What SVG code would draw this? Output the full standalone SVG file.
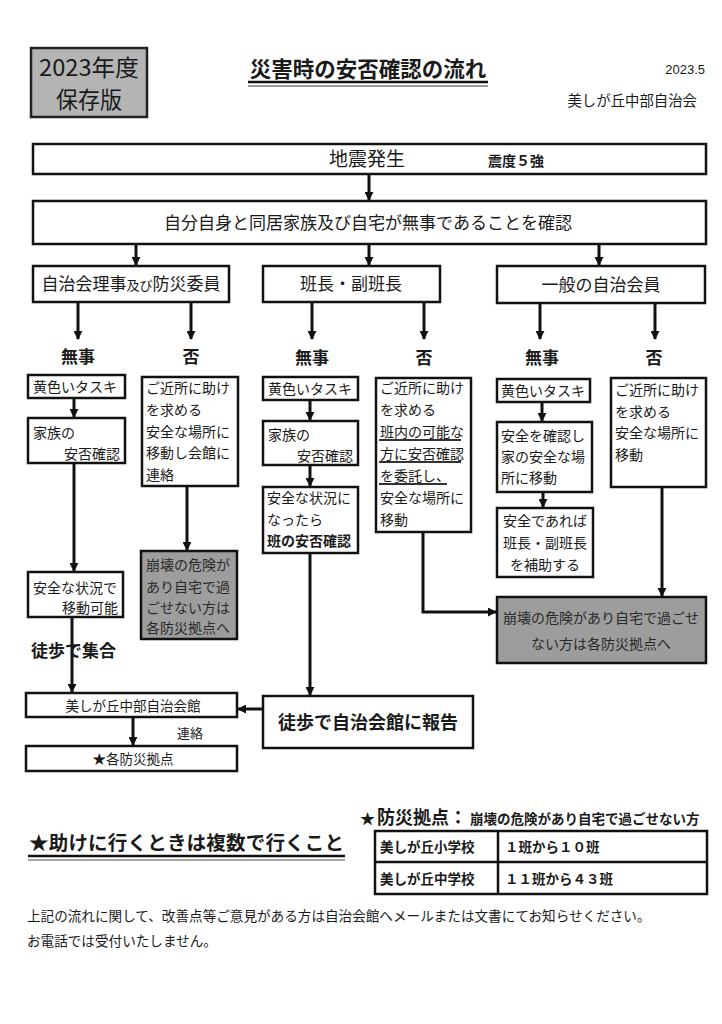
<svg xmlns="http://www.w3.org/2000/svg" width="722" height="1024" viewBox="0 0 722 1024">
<style>
text{font-family:"Noto Sans CJK JP","Noto Sans",sans-serif;fill:#1a1a1a}
.box{fill:#fff;stroke:#111;stroke-width:2.5}
.gbox{fill:#9d9d9d;stroke:#111;stroke-width:2.5}
.con{fill:none;stroke:#111;stroke-width:3}
.t14{font-size:14px}
.t13{font-size:13.5px}
.b{font-weight:bold}
.mid{text-anchor:middle}
.end{text-anchor:end}
.gt{fill:#2a2a2a;font-size:14px}
.ul{stroke:#333;stroke-width:1.8}
</style>
<defs>
<marker id="ah" viewBox="0 0 10 10" refX="9" refY="5" markerWidth="9" markerHeight="9" markerUnits="userSpaceOnUse" orient="auto"><path d="M0,0 L10,5 L0,10 z" fill="#111"/></marker>
</defs>
<rect width="722" height="1024" fill="#fff"/>

<g id="header">
<rect x="31" y="48" width="116" height="69" fill="#b4b4b4" stroke="#222" stroke-width="2.5"/>
<text x="89" y="76" class="mid" font-size="23" textLength="100" lengthAdjust="spacingAndGlyphs">2023年度</text>
<text x="89" y="108" class="mid" font-size="23" textLength="66" lengthAdjust="spacingAndGlyphs">保存版</text>
<text x="368" y="77" class="mid b" font-size="21.5">災害時の安否確認の流れ</text>
<line x1="248" y1="82" x2="488" y2="82" stroke="#111" stroke-width="2.5"/>
<line x1="248" y1="86" x2="488" y2="86" stroke="#777" stroke-width="1.5"/>
<text x="705" y="74" class="end" font-size="13" style="font-family:'Liberation Sans',sans-serif">2023.5</text>
<text x="697" y="106" class="end" font-size="14.4">美しが丘中部自治会</text>
</g>

<g id="connectors">
<line class="con" x1="369" y1="174" x2="369" y2="200" marker-end="url(#ah)"/>
<line class="con" x1="136" y1="244" x2="136" y2="265" marker-end="url(#ah)"/>
<line class="con" x1="369" y1="244" x2="369" y2="265" marker-end="url(#ah)"/>
<line class="con" x1="599" y1="244" x2="599" y2="265" marker-end="url(#ah)"/>
<line class="con" x1="78" y1="302" x2="78" y2="339" marker-end="url(#ah)"/>
<line class="con" x1="191" y1="302" x2="191" y2="339" marker-end="url(#ah)"/>
<line class="con" x1="312" y1="302" x2="312" y2="339" marker-end="url(#ah)"/>
<line class="con" x1="424" y1="302" x2="424" y2="339" marker-end="url(#ah)"/>
<line class="con" x1="540" y1="303" x2="540" y2="339" marker-end="url(#ah)"/>
<line class="con" x1="655" y1="303" x2="655" y2="339" marker-end="url(#ah)"/>
<line class="con" x1="74" y1="398" x2="74" y2="417" marker-end="url(#ah)"/>
<line class="con" x1="74" y1="463" x2="74" y2="571" marker-end="url(#ah)"/>
<line class="con" x1="72" y1="617" x2="72" y2="692" marker-end="url(#ah)"/>
<line class="con" x1="187" y1="486" x2="187" y2="550" marker-end="url(#ah)"/>
<line class="con" x1="310" y1="400" x2="310" y2="420" marker-end="url(#ah)"/>
<line class="con" x1="310" y1="465" x2="310" y2="486" marker-end="url(#ah)"/>
<line class="con" x1="310" y1="553" x2="310" y2="695" marker-end="url(#ah)"/>
<polyline class="con" points="423,532 423,612 496,612" marker-end="url(#ah)"/>
<line class="con" x1="542" y1="402" x2="542" y2="421" marker-end="url(#ah)"/>
<line class="con" x1="543" y1="492" x2="543" y2="507" marker-end="url(#ah)"/>
<line class="con" x1="662" y1="487" x2="662" y2="596" marker-end="url(#ah)"/>
<line class="con" x1="263" y1="709" x2="238" y2="709" marker-end="url(#ah)"/>
<line class="con" x1="133" y1="717" x2="133" y2="745" marker-end="url(#ah)"/>
</g>

<g id="n-quake">
<rect class="box" x="33" y="144" width="673" height="30"/>
<text x="367" y="166" class="mid" font-size="19">地震発生</text>
<text x="488" y="166" class="b" font-size="14">震度５強</text>
</g>
<g id="n-check">
<rect class="box" x="33" y="201" width="673" height="43"/>
<text x="368" y="229" class="mid" font-size="17">自分自身と同居家族及び自宅が無事であることを確認</text>
</g>
<g id="n-role1">
<rect class="box" x="33" y="266" width="196" height="36"/>
<text x="131" y="290" class="mid" font-size="17">自治会理事<tspan font-size="13">及び</tspan>防災委員</text>
</g>
<g id="n-role2">
<rect class="box" x="263" y="266" width="177" height="36"/>
<text x="351" y="290" class="mid" font-size="17">班長・副班長</text>
</g>
<g id="n-role3">
<rect class="box" x="497" y="266" width="208" height="37"/>
<text x="601" y="291" class="mid" font-size="17">一般の自治会員</text>
</g>

<g id="labels">
<text x="78" y="363" class="mid b" font-size="17">無事</text>
<text x="191" y="363" class="mid b" font-size="17">否</text>
<text x="312" y="364" class="mid b" font-size="17">無事</text>
<text x="424" y="364" class="mid b" font-size="17">否</text>
<text x="542" y="364" class="mid b" font-size="17">無事</text>
<text x="654" y="364" class="mid b" font-size="17">否</text>
</g>

<g id="n-c1-sash">
<rect class="box" x="28" y="375" width="97" height="23"/>
<text x="33" y="392" class="t14">黄色いタスキ</text>
</g>
<g id="n-c1-family">
<rect class="box" x="28" y="418" width="97" height="45"/>
<text x="33" y="438" class="t14">家族の</text>
<text x="120" y="459" class="t14 end">安否確認</text>
</g>
<g id="n-c1-safe">
<rect class="box" x="28" y="572" width="95" height="45"/>
<text x="33" y="593" class="t14">安全な状況で</text>
<text x="118" y="613" class="t14 end">移動可能</text>
</g>
<g id="n-c1-walk">
<text x="31" y="657" class="b" font-size="17">徒歩で集合</text>
</g>
<g id="n-c1-no">
<rect class="box" x="142" y="377" width="96" height="109"/>
<text x="146" y="393" class="t14">ご近所に助け</text>
<text x="146" y="415" class="t14">を求める</text>
<text x="146" y="437" class="t14">安全な場所に</text>
<text x="146" y="458" class="t14">移動し会館に</text>
<text x="146" y="480" class="t14">連絡</text>
</g>
<g id="n-c1-shelter">
<rect class="gbox" x="141" y="551" width="96" height="88"/>
<text x="146" y="570" class="gt">崩壊の危険が</text>
<text x="146" y="592" class="gt">あり自宅で過</text>
<text x="146" y="613" class="gt">ごせない方は</text>
<text x="146" y="633" class="gt">各防災拠点へ</text>
</g>

<g id="n-c2-sash">
<rect class="box" x="263" y="377" width="95" height="23"/>
<text x="268" y="394" class="t14">黄色いタスキ</text>
</g>
<g id="n-c2-family">
<rect class="box" x="263" y="421" width="95" height="44"/>
<text x="268" y="440" class="t14">家族の</text>
<text x="353" y="461" class="t14 end">安否確認</text>
</g>
<g id="n-c2-safe">
<rect class="box" x="263" y="487" width="95" height="66"/>
<text x="267" y="503" class="t14">安全な状況に</text>
<text x="267" y="525" class="t14">なったら</text>
<text x="267" y="546" class="t14 b">班の安否確認</text>
</g>
<g id="n-c2-no">
<rect class="box" x="376" y="378" width="95" height="154"/>
<text x="380" y="393" class="t14">ご近所に助け</text>
<text x="380" y="415" class="t14">を求める</text>
<text x="380" y="437" class="t14">班内の可能な</text>
<text x="380" y="459" class="t14">方に安否確認</text>
<text x="380" y="481" class="t14">を委託し、</text>
<text x="380" y="503" class="t14">安全な場所に</text>
<text x="380" y="525" class="t14">移動</text>
<line class="ul" x1="379" y1="440" x2="461" y2="440"/>
<line class="ul" x1="379" y1="462" x2="461" y2="462"/>
<line class="ul" x1="379" y1="484" x2="447" y2="484"/>
</g>
<g id="n-c2-report">
<rect class="box" x="263" y="696" width="210" height="52"/>
<text x="368" y="729" class="mid b" font-size="18">徒歩で自治会館に報告</text>
</g>

<g id="n-c3-sash">
<rect class="box" x="497" y="379" width="93" height="23"/>
<text x="501" y="396" class="t14">黄色いタスキ</text>
</g>
<g id="n-c3-move">
<rect class="box" x="497" y="422" width="95" height="70"/>
<text x="501" y="441" class="t14">安全を確認し</text>
<text x="501" y="462" class="t14">家の安全な場</text>
<text x="501" y="483" class="t14">所に移動</text>
</g>
<g id="n-c3-assist">
<rect class="box" x="497" y="508" width="96" height="69"/>
<text x="545" y="526" class="t14 mid">安全であれば</text>
<text x="545" y="548" class="t14 mid">班長・副班長</text>
<text x="545" y="570" class="t14 mid">を補助する</text>
</g>
<g id="n-c3-no">
<rect class="box" x="611" y="378" width="95" height="109"/>
<text x="615" y="395" class="t14">ご近所に助け</text>
<text x="615" y="417" class="t14">を求める</text>
<text x="615" y="438" class="t14">安全な場所に</text>
<text x="615" y="460" class="t14">移動</text>
</g>
<g id="n-shelter-main">
<rect class="gbox" x="497" y="597" width="209" height="66"/>
<text x="601" y="623" class="gt mid">崩壊の危険があり自宅で過ごせ</text>
<text x="601" y="649" class="gt mid">ない方は各防災拠点へ</text>
</g>

<g id="n-hall">
<rect class="box" x="26" y="693" width="211" height="24"/>
<text x="133" y="711" class="t13 mid">美しが丘中部自治会館</text>
<text x="177" y="738" font-size="13">連絡</text>
</g>
<g id="n-bases">
<rect class="box" x="26" y="746" width="211" height="25"/>
<text x="133" y="764" class="t13 mid">★各防災拠点</text>
</g>

<g id="note-help">
<text x="29" y="850" class="b" font-size="19.5" textLength="315">★助けに行くときは複数で行くこと</text>
<line x1="28" y1="856" x2="345" y2="856" stroke="#111" stroke-width="2.5"/>
<line x1="28" y1="860" x2="345" y2="860" stroke="#888" stroke-width="1.5"/>
</g>

<g id="table">
<text x="360" y="824" class="b" font-size="15">★</text>
<text x="377" y="824" class="b" font-size="18">防災拠点：</text>
<text x="470" y="824" class="b" font-size="13.5">崩壊の危険があり自宅で過ごせない方</text>
<rect x="375" y="831" width="332" height="63" fill="#fff" stroke="#111" stroke-width="2.5"/>
<line x1="375" y1="862" x2="707" y2="862" stroke="#111" stroke-width="2.5"/>
<line x1="498" y1="831" x2="498" y2="894" stroke="#111" stroke-width="2.5"/>
<text x="380" y="852" class="t13 b">美しが丘小学校</text>
<text x="505" y="852" class="t13 b">１班から１０班</text>
<text x="380" y="884" class="t13 b">美しが丘中学校</text>
<text x="505" y="884" class="t13 b">１１班から４３班</text>
</g>

<g id="footer">
<text x="27" y="921" font-size="13.6">上記の流れに関して、改善点等ご意見がある方は自治会館へメールまたは文書にてお知らせください。</text>
<text x="27" y="946" font-size="13.6">お電話では受付いたしません。</text>
</g>
</svg>
